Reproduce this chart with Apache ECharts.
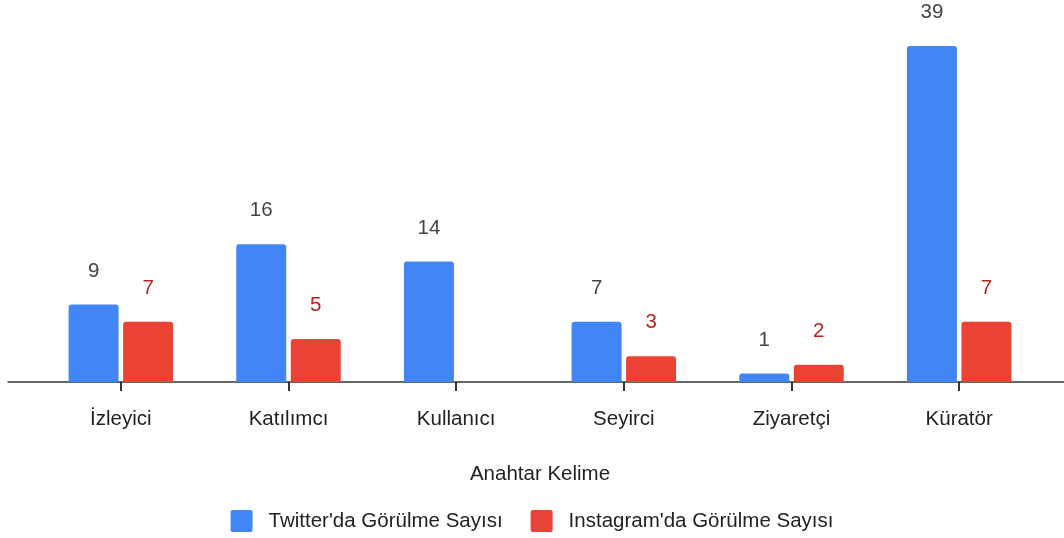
<!DOCTYPE html>
<html>
<head>
<meta charset="utf-8">
<script src="https://cdn.jsdelivr.net/npm/echarts@6/dist/echarts.min.js"></script>
<style>
html,body{margin:0;padding:0;background:#fff;}
#chart{width:1064px;height:538px;}
</style>
</head>
<body>
<div id="chart"></div>
<script>
// veriler
var categories = ['İzleyici', 'Katılımcı', 'Kullanıcı', 'Seyirci', 'Ziyaretçi', 'Küratör'];
var twitterValues = [9, 16, 14, 7, 1, 39];
var instagramValues = [7, 5, null, 3, 2, 7];
var seriesNames = ["Twitter'da Görülme Sayısı", "Instagram'da Görülme Sayısı"];
var axisName = 'Anahtar Kelime';

var font = 'Arial, "Liberation Sans", sans-serif';
var chart = echarts.init(document.getElementById('chart'));

// legend ikonu: hafif yuvarlatılmış kare
var squareIcon = 'path://M2,0 L20,0 Q22,0 22,2 L22,20 Q22,22 20,22 L2,22 Q0,22 0,20 L0,2 Q0,0 2,0 Z';

var option = {
	backgroundColor: '#ffffff',
	color: ['#4285f4', '#ea4335'],
	textStyle: {fontFamily: font},
	legend: {
		bottom: 1,
		left: 'center',
		itemWidth: 22,
		itemHeight: 22,
		itemGap: 28,
		textStyle: {fontSize: 20.5, color: '#222', fontFamily: font, padding: [0, 0, 0, 11]},
		data: [
			{name: seriesNames[0], icon: squareIcon},
			{name: seriesNames[1], icon: squareIcon}
		]
	},
	grid: [
		{left: 37, right: 21, top: 37.4, bottom: 156, containLabel: false},
		// sadece eksen çizgisi için (soldan sağa uzanan)
		{left: 8, right: 0, top: 37.4, bottom: 156, containLabel: false}
	],
	xAxis: [
		{
			type: 'category',
			gridIndex: 0,
			data: categories,
			name: axisName,
			nameLocation: 'middle',
			nameGap: 82,
			nameTextStyle: {fontSize: 20.5, color: '#222', fontFamily: font},
			axisLine: {show: false},
			axisTick: {show: true, alignWithLabel: true, length: 9, lineStyle: {color: '#333', width: 2}},
			axisLabel: {fontSize: 20.5, color: '#222', margin: 27, fontFamily: font}
		},
		{
			type: 'value',
			gridIndex: 1,
			min: 0, max: 1,
			axisLine: {show: true, onZero: false, lineStyle: {color: '#333', width: 1.5}},
			axisTick: {show: false},
			axisLabel: {show: false},
			splitLine: {show: false}
		}
	],
	yAxis: [
		{type: 'value', gridIndex: 0, min: 0, max: 40, show: false},
		{type: 'value', gridIndex: 1, min: 0, max: 1, show: false}
	],
	series: [
		{
			name: seriesNames[0],
			type: 'bar',
			data: twitterValues,
			barWidth: 50,
			barGap: '9%',
			itemStyle: {borderRadius: [3, 3, 0, 0]},
			label: {show: true, position: 'top', distance: 23, fontSize: 20.5, color: '#444', fontFamily: font}
		},
		{
			name: seriesNames[1],
			type: 'bar',
			data: instagramValues,
			barWidth: 50,
			barGap: '9%',
			itemStyle: {borderRadius: [3, 3, 0, 0]},
			label: {show: true, position: 'top', distance: 23, fontSize: 20.5, color: '#b3261e', fontFamily: font}
		}
	]
};

chart.setOption(option);
</script>
</body>
</html>
